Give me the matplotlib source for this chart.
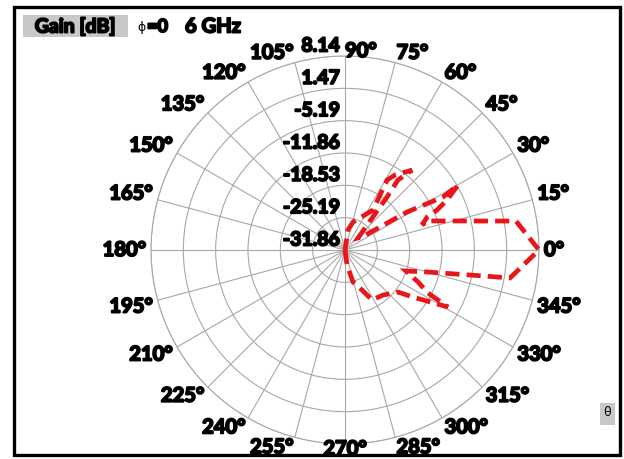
import numpy as np
import matplotlib
matplotlib.use("Agg")
import matplotlib.pyplot as plt
from matplotlib.patches import Rectangle
from matplotlib import transforms
import matplotlib.patheffects as pe

# ---- data ----
theta_deg = [-90, -82.4, -76, -67, -61.6, -49.8, -38.4, -34.7, -29.0, -27.4, -23.7, -19.0,
             -15.0, -9.6, 0, 9.6, 19.5, 18.0, 21.9, 23.5, 26.1, 29.9, 28.4, 31.5, 37.4,
             42.7, 51.6, 52.9, 50.0, 56.3, 59.0, 55.0, 74, 81.5, 90]
gain_db = [-31.86, -28.75, -25.06, -22.9, -20.15, -19.7, -17.9, -14.8, -7.6, -12.6, -15.4, -18.56,
           -14.36, 2.66, 8.14, 3.9, -13.9, -15.16, -13.6, -11.18, -8.44, -4.97, -8.89, -16.87, -27.45,
           -28.2, -17.9, -13.76, -10.35, -13.28, -15.03, -21.8, -25.86, -27.7, -31.86]
r_ticks = [8.14, 1.47, -5.19, -11.86, -18.53, -25.19, -31.86]
angle_ticks = list(range(0, 360, 15))
title_box = "Gain [dB]"
subtitle_phi = "\u03d5"
subtitle_rest = "=0"
freq = "6 GHz"
axis_name = "\u03b8"

W, H = 624, 459
fig = plt.figure(figsize=(W / 100, H / 100), dpi=100)
fig.patch.set_facecolor("white")

def px(x, y):
    return x / W, 1 - y / H

FONT = ["Lato", "DejaVu Sans"]
HEAVY = [pe.withStroke(linewidth=1.4, foreground="black")]
cx, cy, R = 345, 250, 194
ax = fig.add_axes([(cx - R) / W, (H - cy - R) / H, 2 * R / W, 2 * R / H], projection="polar")
ax.set_ylim(-31.86, 8.14)
ax.set_thetagrids(angle_ticks, labels=[""] * len(angle_ticks))
ax.set_rgrids(r_ticks, labels=[""] * len(r_ticks))
ax.grid(True, color="#a8a8a8", linewidth=0.8)
ax.spines["polar"].set_color("#a8a8a8")
ax.spines["polar"].set_linewidth(0.8)
ax.tick_params(length=0)

ax.plot(np.deg2rad(theta_deg), gain_db, color="#e8161b", linewidth=3.4,
        linestyle=(0, (3, 1.5)), solid_joinstyle="miter", dash_joinstyle="miter",
        dash_capstyle="butt", clip_on=False, zorder=5)

# radial tick labels
off = transforms.offset_copy(ax.transData, fig=fig, x=-5, y=10, units="dots")
for v in r_ticks:
    ax.text(np.pi / 2, v, f"{v:.2f}", transform=off, ha="right", va="center",
            fontsize=14, fontweight="bold", family=FONT, color="black", zorder=6,
            path_effects=HEAVY)

# angle labels
rl = 8.14 + 40 * (199 - R) / R
for a in angle_ticks:
    t = np.deg2rad(a)
    c, s = np.cos(t), np.sin(t)
    if abs(c) < 0.05:
        ha = "left" if s > 0 else "center"
    else:
        ha = "left" if c > 0 else "right"
    dy = 5 * np.sign(s) * (1 if 0.2 < abs(s) < 0.99 else 0)
    o = transforms.offset_copy(ax.transData, fig=fig, x=0, y=dy, units="dots")
    ax.text(t, rl, f"{a}\u00b0", transform=o, ha=ha, va="center", fontsize=14.5,
            fontweight="bold", family=FONT, color="black", clip_on=False,
            path_effects=HEAVY)

# title elements
fig.patches.append(Rectangle(px(23, 37), 105 / W, 22 / H, transform=fig.transFigure,
                             facecolor="#c8c8c8", edgecolor="none"))
fig.text(*px(75.5, 26.5), title_box, ha="center", va="center", fontsize=14,
         fontweight="bold", family=FONT, path_effects=HEAVY)
fig.text(*px(141, 28), subtitle_phi, ha="center", va="center", fontsize=9, family=["DejaVu Sans"])
fig.text(*px(147, 26.5), subtitle_rest, ha="left", va="center", fontsize=13,
         fontweight="bold", family=FONT, path_effects=HEAVY)
fig.text(*px(185, 26.5), freq, ha="left", va="center", fontsize=14.5,
         fontweight="bold", family=FONT, path_effects=HEAVY)

# theta box
fig.patches.append(Rectangle(px(600, 425), 15 / W, 22 / H, transform=fig.transFigure,
                             facecolor="#c8c8c8", edgecolor="none"))
fig.text(*px(607.5, 413), axis_name, ha="center", va="center", fontsize=9, family=["DejaVu Sans"])

# frame
fig.patches.append(Rectangle(px(13.5, 454.5), 606 / W, 448 / H, transform=fig.transFigure,
                             facecolor="none", edgecolor="black", linewidth=2.4))

fig.savefig("out.png", dpi=100)
